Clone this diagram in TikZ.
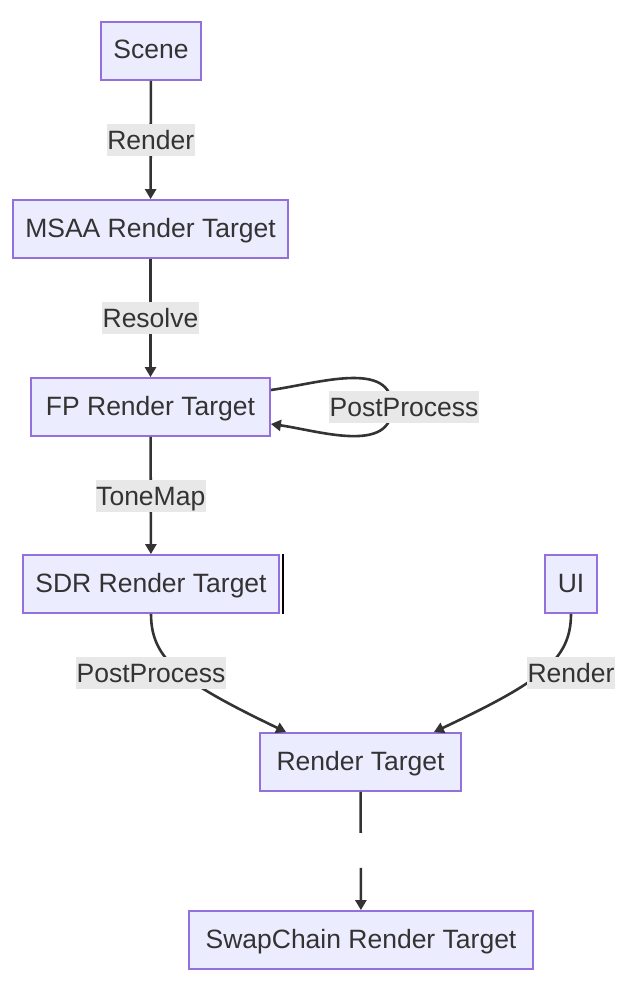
\documentclass[tikz,border=0pt]{standalone}
\usepackage{fontspec}
\setmainfont{Liberation Sans}
\usetikzlibrary{arrows.meta}
\usepackage{xcolor}
\definecolor{boxfill}{HTML}{ECECFF}
\definecolor{boxline}{HTML}{9370DB}
\definecolor{edgeline}{HTML}{333333}
\definecolor{labelbg}{HTML}{E8E8E8}

\begin{document}
\begin{tikzpicture}[x=1pt, y=-1pt, >={Triangle[length=10pt,width=11pt]},
        font=\fontsize{26.5}{30}\selectfont,
        box/.style={draw=boxline, fill=boxfill, line width=1.8pt, minimum height=58pt, inner sep=0pt,
            text height=19pt, text depth=3pt, text=edgeline},
        edge/.style={->, draw=edgeline, line width=2.6pt},
        lbl/.style={fill=labelbg, text=edgeline, inner xsep=0.5pt, inner ysep=6.5pt, text height=19pt, text depth=0pt}]
                \useasboundingbox (0, 0) rectangle (628, 982);
                % NODES
                \node[box, minimum width=100pt] (scene) at (151, 51) {Scene};
                \node[box, minimum width=275pt] (msaa)  at (150.5, 229) {MSAA Render Target};
                \node[box, minimum width=239pt] (fp)    at (150.5, 407) {FP Render Target};
                \node[box, minimum width=256pt] (sdr)   at (151, 584) {SDR Render Target};
                \node[box, minimum width=52pt]  (ui)    at (571, 584) {UI};
                \node[box, minimum width=201pt] (rt)    at (360.5, 762) {Render Target};
                \node[box, minimum width=344pt] (swap)  at (361, 940) {SwapChain Render Target};
                \draw[black, line width=2.2pt] ([xshift=3pt]sdr.north east) -- ([xshift=3pt]sdr.south east);
                % EDGES
                \draw[edge] (scene) -- (msaa) node[midway, lbl] {Render};
                \draw[edge] (msaa) -- (fp) node[midway, lbl] {Resolve};
                \draw[edge] ([yshift=17pt]fp.east) to[out=8, in=90] (392, 407)
                    to[out=-90, in=-8] ([yshift=-17pt]fp.east);
                \node[lbl] (loop) at (404, 407) {PostProcess};
                \draw[edge] (fp) -- (sdr) node[midway, lbl] {ToneMap};
                \draw[edge] (sdr.south) .. controls (151, 660) and (182, 682) .. ([xshift=27pt]rt.north west);
                \draw[edge] (ui.south) .. controls (571, 660) and (540, 682) .. ([xshift=-28pt]rt.north east);
                \node[lbl] (post) at (151, 673) {PostProcess};
                \node[lbl] (uir) at (571, 673) {Render};
                \draw[edge, dash pattern=on 41pt off 35pt on 80pt] (rt) -- (swap);
\end{tikzpicture}
\end{document}
